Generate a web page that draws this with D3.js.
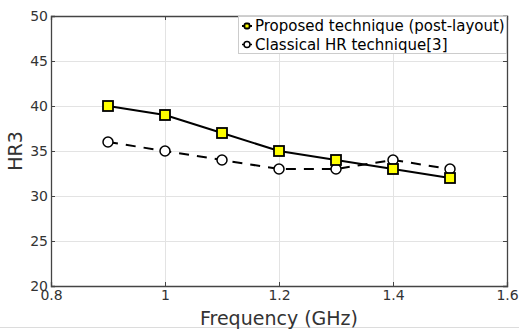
<!DOCTYPE html>
<html>
<head>
<meta charset="utf-8">
<script src="https://cdn.jsdelivr.net/npm/d3@7"></script>
<style>
  body { margin: 0; background: #fff; }
  text { font-family: "DejaVu Sans", sans-serif; }
</style>
</head>
<body>
<div id="chart"></div>
<script>
// data
const freq = [0.9, 1.0, 1.1, 1.2, 1.3, 1.4, 1.5];
const proposed = [40, 39, 37, 35, 34, 33, 32];
const classical = [36, 35, 34, 33, 33, 34, 33];
const xTicks = [0.8, 1, 1.2, 1.4, 1.6];
const yTicks = [20, 25, 30, 35, 40, 45, 50];
const seriesNames = ["Proposed technique (post-layout)", "Classical HR technique[3]"];

const width = 519, height = 329;
const margin = { top: 16, right: 12, bottom: 43, left: 51 };
const w = width - margin.left - margin.right;
const h = height - margin.top - margin.bottom;

const svg = d3.select("#chart").append("svg")
  .attr("width", width)
  .attr("height", height);

// faint border line at the bottom of the figure
svg.append("line")
  .attr("x1", 0).attr("x2", width)
  .attr("y1", 327.5).attr("y2", 327.5)
  .attr("stroke", "#dcdcdc");

const g = svg.append("g")
  .attr("transform", `translate(${margin.left},${margin.top})`);

const x = d3.scaleLinear().domain([0.8, 1.6]).range([0, w]);
const y = d3.scaleLinear().domain([20, 50]).range([h, 0]);

// grid
g.append("g").selectAll("line")
  .data(xTicks)
  .enter().append("line")
  .attr("x1", d => Math.round(x(d)) + 0.5).attr("x2", d => Math.round(x(d)) + 0.5)
  .attr("y1", 0).attr("y2", h)
  .attr("stroke", "#e3e3e3");
g.append("g").selectAll("line")
  .data(yTicks)
  .enter().append("line")
  .attr("y1", d => Math.round(y(d)) + 0.5).attr("y2", d => Math.round(y(d)) + 0.5)
  .attr("x1", 0).attr("x2", w)
  .attr("stroke", "#e3e3e3");

// axes with inward ticks (mirrored on top and right)
const xAxis = g.append("g")
  .attr("transform", `translate(0,${h})`)
  .call(d3.axisBottom(x).tickValues(xTicks).tickSize(-4).tickPadding(6).tickFormat(d3.format("~g")));
const yAxis = g.append("g")
  .call(d3.axisLeft(y).tickValues(yTicks).tickSize(-4).tickPadding(3));
const xTop = g.append("g")
  .call(d3.axisTop(x).tickValues(xTicks).tickSize(-4).tickFormat(""));
const yRight = g.append("g")
  .attr("transform", `translate(${w},0)`)
  .call(d3.axisRight(y).tickValues(yTicks).tickSize(-4).tickFormat(""));

[xAxis, yAxis, xTop, yRight].forEach(a => {
  a.select(".domain").attr("stroke", "#444").attr("stroke-width", 1.3);
  a.selectAll(".tick line").attr("stroke", "#444");
  a.selectAll("text").attr("font-size", 14).attr("fill", "#333")
    .attr("font-family", "DejaVu Sans, sans-serif");
});
xAxis.selectAll("text").attr("dy", "0.55em");

// series
const line = d3.line().x(d => x(d[0])).y(d => y(d[1]));
const ptsClassical = freq.map((f, i) => [f, classical[i]]);
const ptsProposed = freq.map((f, i) => [f, proposed[i]]);

g.append("path")
  .datum(ptsClassical)
  .attr("d", line)
  .attr("fill", "none")
  .attr("stroke", "#000")
  .attr("stroke-width", 2)
  .attr("stroke-dasharray", "10,8");

g.append("path")
  .datum(ptsProposed)
  .attr("d", line)
  .attr("fill", "none")
  .attr("stroke", "#000")
  .attr("stroke-width", 2);

g.selectAll(".circ")
  .data(ptsClassical)
  .enter().append("circle")
  .attr("class", "circ")
  .attr("cx", d => x(d[0]))
  .attr("cy", d => y(d[1]))
  .attr("r", 5)
  .attr("fill", "#fff")
  .attr("stroke", "#000")
  .attr("stroke-width", 1.5);

g.selectAll(".sq")
  .data(ptsProposed)
  .enter().append("rect")
  .attr("class", "sq")
  .attr("x", d => x(d[0]) - 5)
  .attr("y", d => y(d[1]) - 5)
  .attr("width", 10)
  .attr("height", 10)
  .attr("fill", "#ffff00")
  .attr("stroke", "#000")
  .attr("stroke-width", 1.8);

// axis labels
svg.append("text")
  .attr("x", margin.left + w / 2)
  .attr("y", 325)
  .attr("text-anchor", "middle")
  .attr("font-size", 19)
  .attr("fill", "#333")
  .text("Frequency (GHz)");

svg.append("text")
  .attr("transform", `translate(22,${margin.top + h / 2}) rotate(-90)`)
  .attr("text-anchor", "middle")
  .attr("font-size", 19)
  .attr("fill", "#333")
  .text("HR3");

// legend
const lg = g.append("g").attr("transform", `translate(${w - 269},0)`);
lg.append("rect")
  .attr("x", 0.5).attr("y", 0.5)
  .attr("width", 268).attr("height", 37)
  .attr("fill", "#fff")
  .attr("stroke", "#ccc");

seriesNames.forEach((name, i) => {
  const row = lg.append("g").attr("transform", `translate(0,${10 + i * 18.5})`);
  if (i === 0) {
    row.append("line").attr("x1", 4).attr("x2", 14).attr("y1", 0).attr("y2", 0)
      .attr("stroke", "#000").attr("stroke-width", 2);
    row.append("rect").attr("x", 6.5).attr("y", -2.5).attr("width", 5).attr("height", 5)
      .attr("fill", "#ffff00").attr("stroke", "#000").attr("stroke-width", 1.8)
      .attr("rx", 1.5);
  } else {
    row.append("line").attr("x1", 4).attr("x2", 14).attr("y1", 0).attr("y2", 0)
      .attr("stroke", "#000").attr("stroke-width", 1.5);
    row.append("circle").attr("cx", 9).attr("cy", 0).attr("r", 3)
      .attr("fill", "#fff").attr("stroke", "#000").attr("stroke-width", 1.5);
  }
  row.append("text")
    .attr("x", 17).attr("y", 0)
    .attr("dy", "0.35em")
    .attr("font-size", 15)
    .attr("fill", "#000")
    .text(name);
});
</script>
</body>
</html>
